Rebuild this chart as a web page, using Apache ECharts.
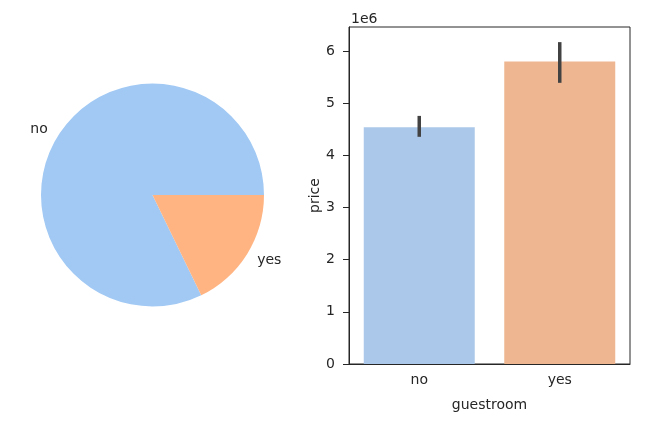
<!DOCTYPE html>
<html>
<head>
<meta charset="utf-8">
<script src="https://cdn.jsdelivr.net/npm/echarts@6/dist/echarts.min.js"></script>
<style>
  html, body { margin: 0; padding: 0; background: #fff; }
  #chart { width: 670px; height: 424px; }
</style>
</head>
<body>
<div id="chart"></div>
<script>
// guestroom counts (pie) and mean price with 95% CI (bar)
var categories = ['no', 'yes'];
var counts = [448, 97];
var meanPrice = [4540000, 5800000];
var ciLow = [4355000, 5390000];
var ciHigh = [4756000, 6170000];
var yTicks = [0, 1, 2, 3, 4, 5, 6];

var pieColors = ['#a1c9f4', '#ffb482'];
var barColors = ['#abc8ea', '#efb791'];
var font = 'DejaVu Sans';

var myChart = echarts.init(document.getElementById('chart'));

var pieData = categories.map(function (c, i) {
  return { name: c, value: counts[i], itemStyle: { color: pieColors[i] } };
});
var barData = categories.map(function (c, i) {
  return { value: meanPrice[i], itemStyle: { color: barColors[i] } };
});
var errData = categories.map(function (c, i) {
  return [i, ciLow[i], ciHigh[i]];
});

var option = {
  animation: false,
  textStyle: { fontFamily: font },
  title: {
    text: '1e6',
    left: 346,
    top: 7,
    textStyle: { fontFamily: font, fontSize: 14, fontWeight: 'normal', color: '#262626' }
  },
  grid: {
    left: 349, right: 40, top: 27, bottom: 60,
    show: true, borderColor: '#262626', borderWidth: 1
  },
  xAxis: {
    type: 'category',
    data: categories,
    name: 'guestroom',
    nameLocation: 'middle',
    nameGap: 34,
    nameTextStyle: { fontFamily: font, fontSize: 14, color: '#262626' },
    axisLine: { lineStyle: { color: '#262626' } },
    axisTick: { alignWithLabel: true, length: 6, lineStyle: { color: '#262626' } },
    axisLabel: { fontFamily: font, fontSize: 14, color: '#262626', margin: 9 }
  },
  yAxis: {
    type: 'value',
    min: 0,
    max: 6460000,
    interval: 1000000,
    name: 'price',
    nameLocation: 'middle',
    nameGap: 26,
    nameTextStyle: { fontFamily: font, fontSize: 14, color: '#262626' },
    splitLine: { show: false },
    axisLine: { show: true, lineStyle: { color: '#262626' } },
    axisTick: { show: true, length: 6, lineStyle: { color: '#262626' } },
    axisLabel: {
      fontFamily: font, fontSize: 14, color: '#262626', margin: 14,
      showMaxLabel: false,
      formatter: function (v) {
        var t = Math.round(v / 1000000);
        return yTicks.indexOf(t) >= 0 ? String(t) : '';
      }
    }
  },
  series: [
    {
      type: 'pie',
      center: [152.5, 195],
      radius: 111.5,
      startAngle: 0,
      clockwise: false,
      data: pieData,
      label: {
        show: true,
        position: 'outside',
        fontFamily: font,
        fontSize: 14,
        color: '#262626',
        distanceToLabelLine: 0
      },
      labelLine: { show: false, length: 12, length2: 0 },
      emphasis: { disabled: true }
    },
    {
      type: 'bar',
      data: barData,
      barWidth: '79%'
    },
    {
      type: 'custom',
      data: errData,
      z: 5,
      renderItem: function (params, api) {
        var p1 = api.coord([api.value(0), api.value(2)]);
        var p2 = api.coord([api.value(0), api.value(1)]);
        return {
          type: 'line',
          shape: { x1: p1[0], y1: p1[1], x2: p2[0], y2: p2[1] },
          style: { stroke: '#424242', lineWidth: 3.5 }
        };
      }
    }
  ]
};

myChart.setOption(option);
</script>
</body>
</html>
